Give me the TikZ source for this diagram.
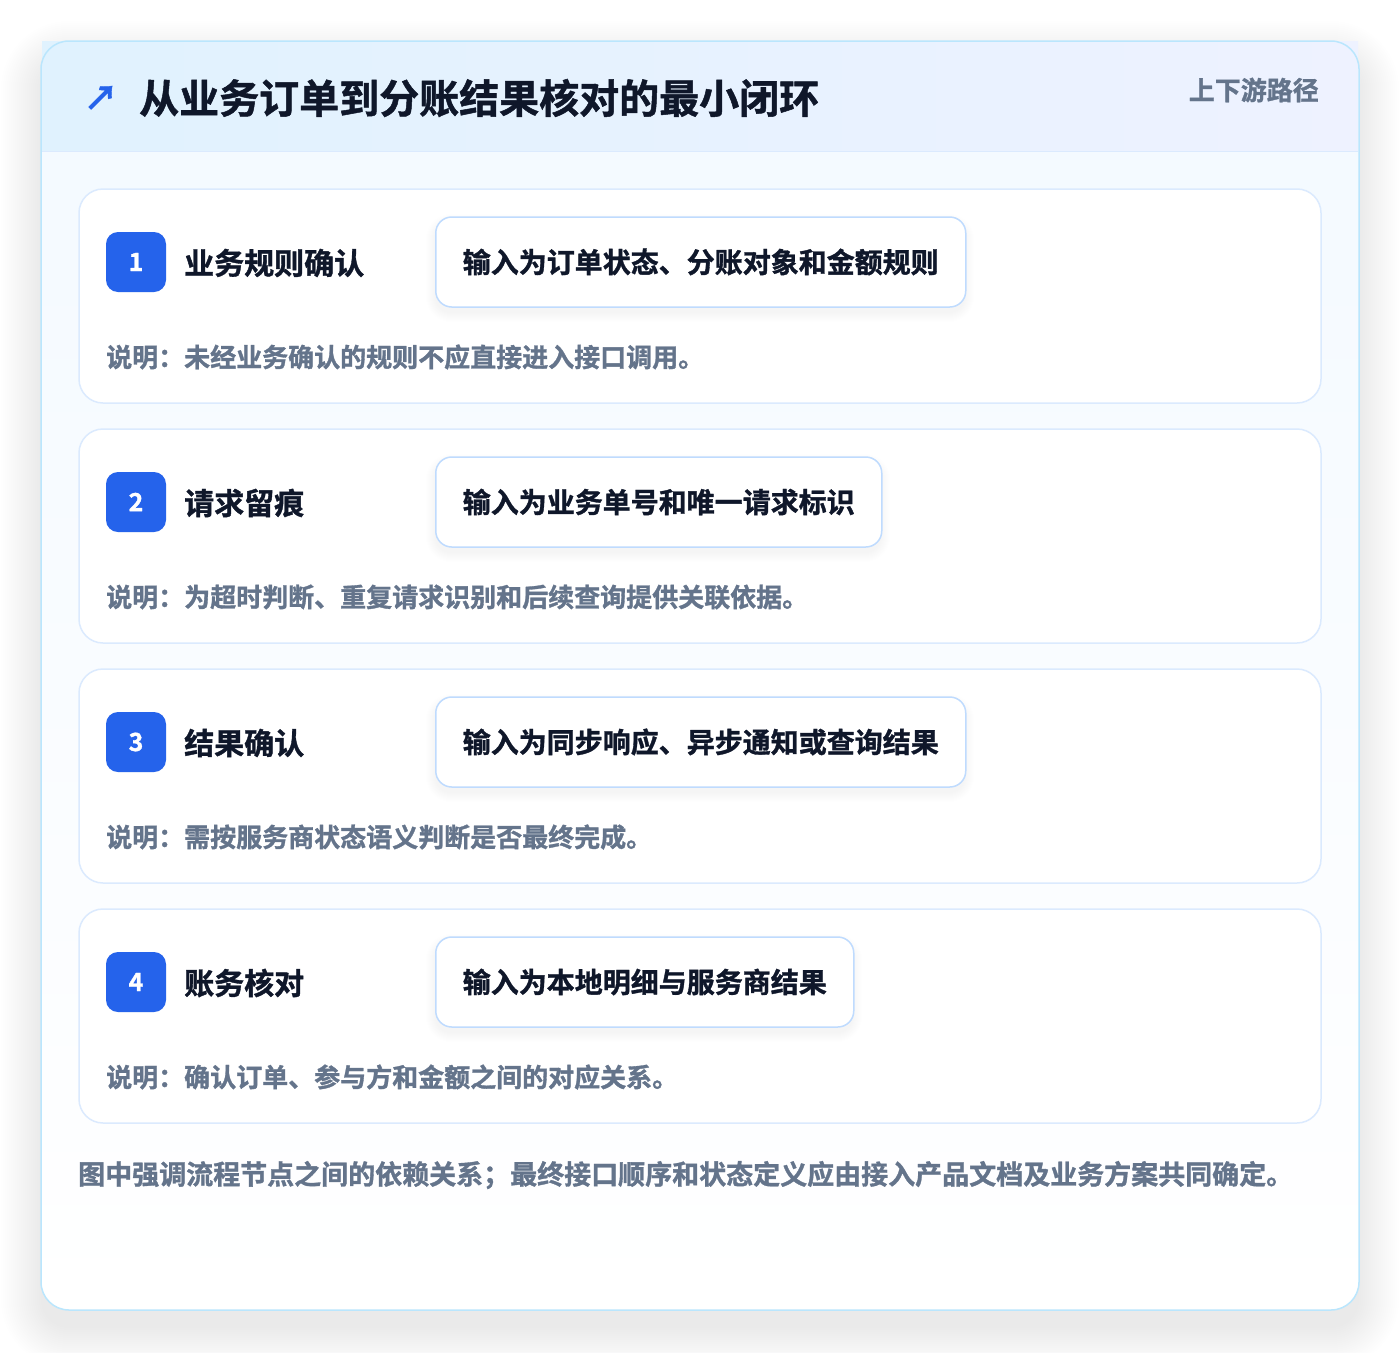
\documentclass[tikz,border=0pt]{standalone}
\usepackage{fontspec}
\setmainfont{Noto Sans CJK SC}[BoldFont={Noto Sans CJK SC Bold},BoldFeatures={FakeBold=1.2}]
\definecolor{ink}{HTML}{0F172A}
\definecolor{muted}{HTML}{64748B}
\definecolor{badge}{HTML}{2563EB}
\definecolor{cardline}{HTML}{BAE6FD}
\definecolor{stepline}{HTML}{DBEAFE}
\definecolor{inputline}{HTML}{BFDBFE}
\definecolor{hdrleft}{HTML}{E0F2FE}
\definecolor{hdrright}{HTML}{EEF2FF}
\definecolor{bodytop}{HTML}{F3F9FF}
\definecolor{shadowc}{HTML}{1E293B}
\begin{document}
\begin{tikzpicture}[x=1pt,y=-1pt,
  outercard/.style={rounded corners=28pt,minimum width=1318pt,minimum height=1269pt,inner sep=0pt},
  headerbar/.style={left color=hdrleft,right color=hdrright,minimum width=1316pt,minimum height=110pt,inner sep=0pt},
  stepcard/.style={draw=stepline,line width=1.5pt,fill=white,rounded corners=24pt,minimum width=1242pt,minimum height=214pt,inner sep=0pt},
  badgebox/.style={fill=badge,rounded corners=12pt,minimum width=60pt,minimum height=60pt,inner sep=0pt,text=white,font=\bfseries\fontsize{25}{30}\selectfont},
  steptitle/.style={anchor=west,inner sep=0pt,text=ink,font=\bfseries\fontsize{30}{36}\selectfont},
  inputbox/.style={anchor=west,draw=inputline,line width=1.5pt,fill=white,rounded corners=16pt,inner xsep=27pt,inner ysep=0pt,minimum height=90pt,text=ink,font=\bfseries\fontsize{28}{34}\selectfont},
  desctext/.style={anchor=west,inner sep=0pt,text=muted,font=\bfseries\fontsize{26}{31}\selectfont},
  softshadow/.style={fill=shadowc,fill opacity=#1}
]
\useasboundingbox (0,0) rectangle (1400,1352);
\fill[white] (0,0) rectangle (1400,1352);
% outer card shadow (layered)
\foreach \k in {0,2,...,40}{
  \fill[softshadow=0.0035,rounded corners=28pt+\k pt] (41-\k,61-\k) rectangle (1359+\k,1328+\k);
}
% outer card
\node[outercard,top color=bodytop,bottom color=white] (card) at (700,675.5) {};
% header
\node[headerbar] (hdr) at (700,96.5) {};
\draw[stepline,line width=1.5pt] (hdr.south west) -- (hdr.south east);
\node[outercard,draw=cardline,line width=1.5pt] (cardborder) at (700,675.5) {};
\node[anchor=center,inner sep=0pt,text=badge,font=\bfseries\fontsize{34}{40}\selectfont] (icon) at (101,98) {↗};
\node[anchor=west,inner sep=0pt,text=ink,font=\bfseries\fontsize{40}{48}\selectfont] (title) at (139,98) {从业务订单到分账结果核对的最小闭环};
\node[anchor=east,inner sep=0pt,text=muted,font=\bfseries\fontsize{26}{31}\selectfont] (tag) at (1319,90) {上下游路径};
% steps
\foreach \i/\yy/\ttl/\inp/\bw/\dsc in {
  1/189/业务规则确认/输入为订单状态、分账对象和金额规则/530/说明：未经业务确认的规则不应直接进入接口调用。,
  2/429/请求留痕/输入为业务单号和唯一请求标识/446/说明：为超时判断、重复请求识别和后续查询提供关联依据。,
  3/669/结果确认/输入为同步响应、异步通知或查询结果/530/说明：需按服务商状态语义判断是否最终完成。,
  4/909/账务核对/输入为本地明细与服务商结果/418/说明：确认订单、参与方和金额之间的对应关系。}{
  \node[stepcard] (step\i) at (700,\yy+107) {};
  \foreach \s in {0,1,...,9}{
    \fill[softshadow=0.005,rounded corners=16pt+\s pt] (435-\s,\yy+34-\s) rectangle (435+\bw+\s,\yy+124+\s);
  }
  \node[badgebox] (badge\i) at (136,\yy+73) {\i};
  \node[steptitle] (title\i) at (184,\yy+74) {\ttl};
  \node[inputbox] (input\i) at (435,\yy+73) {\inp};
  \node[desctext] (desc\i) at (106,\yy+168) {\dsc};
}
\node[anchor=west,inner sep=0pt,text=muted,font=\bfseries\fontsize{27}{33}\selectfont] (foot) at (78,1175) {图中强调流程节点之间的依赖关系；最终接口顺序和状态定义应由接入产品文档及业务方案共同确定。};
\end{tikzpicture}
\end{document}
